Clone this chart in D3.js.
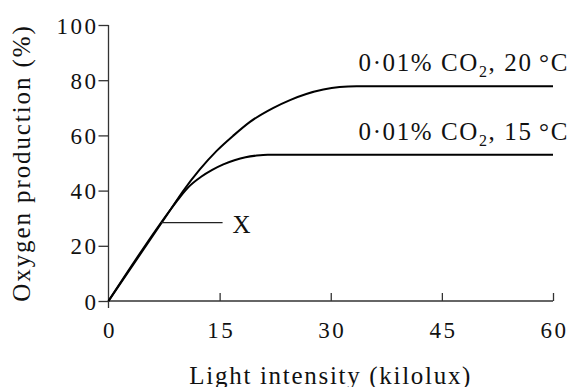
<!DOCTYPE html>
<html>
<head>
<meta charset="utf-8">
<script src="https://cdn.jsdelivr.net/npm/d3@7"></script>
<style>
  body { margin: 0; background: #fff; }
  svg text { font-family: "Liberation Serif", serif; fill: #111; }
</style>
</head>
<body>
<svg width="575" height="387"></svg>
<script>
const svg = d3.select("svg");

// light intensity (kilolux) vs oxygen production (%)
const temp20 = [
  [0, 0], [8.5, 33.6], [10, 39.6], [12.3, 47.6], [14.6, 54.4], [16.8, 59.8],
  [19.1, 64.9], [22.2, 69.9], [24.5, 72.8], [26.7, 75.0], [29, 76.6],
  [31.2, 77.5], [33.5, 77.8], [60, 77.8]
];
const temp15 = [
  [0, 0], [8.5, 33.6], [9.6, 37.5], [11, 41.8], [12.5, 45], [14, 47.5],
  [15.5, 49.5], [17, 51], [18.5, 52.1], [20, 52.7], [21.5, 53], [60, 53]
];
const xTicks = [0, 15, 30, 45, 60];
const yTicks = [0, 20, 40, 60, 80, 100];
const pointX = [7.1, 28.4];   // where the X pointer touches the curve
const pointerEnd = 15.4;

const x = d3.scaleLinear().domain([0, 60]).range([108.5, 553]);
const y = d3.scaleLinear().domain([0, 100]).range([301, 25]);

const line = d3.line()
    .x(d => x(d[0]))
    .y(d => y(d[1]))
    .curve(d3.curveMonotoneX);

// axes
const yAxis = svg.append("g")
    .attr("transform", `translate(${x(0)},0)`)
    .call(d3.axisLeft(y).tickValues(yTicks).tickSize(10).tickPadding(3));

const xAxis = svg.append("g")
    .attr("transform", `translate(0,${y(0)})`)
    .call(d3.axisBottom(x).tickValues(xTicks).tickSize(-8).tickPadding(0));

svg.selectAll(".domain").remove();
svg.selectAll(".tick line").attr("stroke", "#333").attr("stroke-width", 1.3);
xAxis.selectAll(".tick").filter(d => d === 0).select("line").remove();

svg.selectAll(".tick text")
    .style("font-family", "Liberation Serif, serif")
    .style("font-size", "23px")
    .style("letter-spacing", "2.5px")
    .attr("fill", "#111");

yAxis.selectAll(".tick text").attr("dy", "0.35em").attr("x", -10);
xAxis.selectAll(".tick text").attr("y", 37).attr("dy", 0).attr("dx", 1);

svg.append("line")
    .attr("x1", x(0)).attr("x2", x(0))
    .attr("y1", y(100)).attr("y2", y(0) + 7)
    .attr("stroke", "#333").attr("stroke-width", 1.3);
svg.append("line")
    .attr("x1", x(0)).attr("x2", x(60))
    .attr("y1", y(0)).attr("y2", y(0))
    .attr("stroke", "#333").attr("stroke-width", 1.3);

// curves
[temp20, temp15].forEach(s => {
  svg.append("path")
      .attr("d", line(s))
      .attr("fill", "none")
      .attr("stroke", "#000")
      .attr("stroke-width", 2);
});

// X marker
svg.append("line")
    .attr("x1", x(pointX[0])).attr("x2", x(pointerEnd))
    .attr("y1", y(pointX[1])).attr("y2", y(pointX[1]))
    .attr("stroke", "#222").attr("stroke-width", 1.3);
svg.append("text")
    .attr("x", x(pointerEnd) + 10)
    .attr("y", y(pointX[1]) + 10)
    .style("font-size", "25px")
    .text("X");

// curve labels
const labels = [
  { temp: "20", y: 77.8 },
  { temp: "15", y: 53 }
];
labels.forEach(l => {
  const t = svg.append("text")
      .attr("x", 569)
      .attr("y", y(l.y) - 15)
      .attr("text-anchor", "end")
      .style("font-size", "25px")
      .style("letter-spacing", "1.6px");
  t.append("tspan").text("0·01% CO");
  t.append("tspan").attr("dy", 6).style("font-size", "16px").text("2");
  t.append("tspan").attr("dy", -6).text(`, ${l.temp}\u2009°C`);
});

// axis titles
svg.append("text")
    .attr("x", (x(0) + x(60)) / 2)
    .attr("y", 384)
    .attr("text-anchor", "middle")
    .style("font-size", "25px")
    .style("letter-spacing", "1.7px")
    .text("Light intensity (kilolux)");

svg.append("text")
    .attr("transform", `translate(30,${(y(0) + y(100)) / 2}) rotate(-90)`)
    .attr("text-anchor", "middle")
    .style("font-size", "25px")
    .style("letter-spacing", "1.9px")
    .text("Oxygen production (%)");
</script>
</body>
</html>
